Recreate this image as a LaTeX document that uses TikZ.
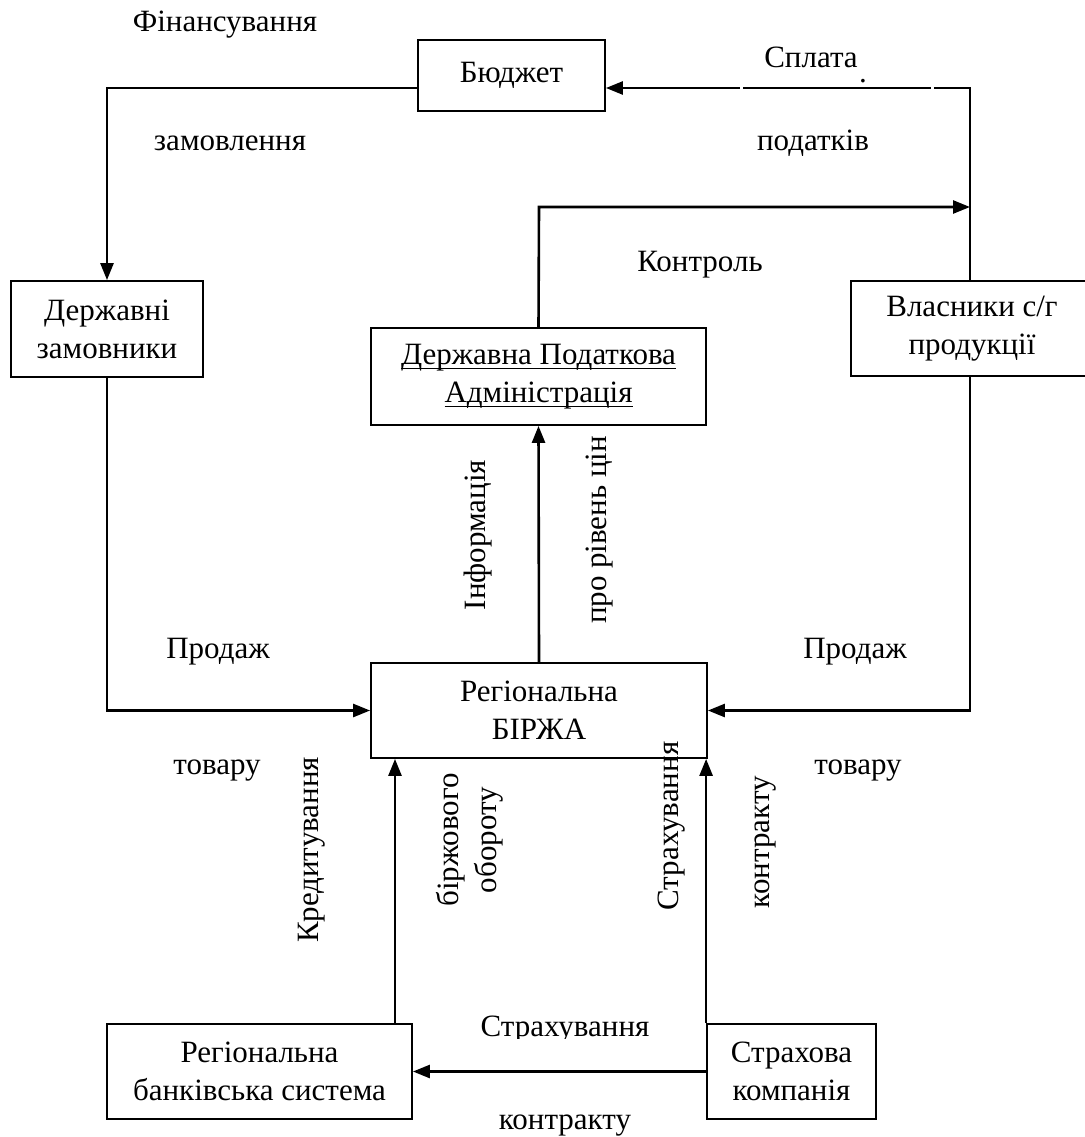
\documentclass[tikz,border=0pt]{standalone}
\usepackage{fontspec}
\setmainfont{Liberation Serif}
\usetikzlibrary{arrows.meta}
\newcommand\myul[1]{\setbox0\hbox{#1}\rlap{\rule[-5pt]{\wd0}{1.8pt}}\box0}
\begin{document}
\begin{tikzpicture}[x=1pt,y=-1pt,
  box/.style={draw, line width=1.8pt, inner sep=0pt, align=center, font=\fontsize{31}{38}\selectfont},
  lab/.style={inner sep=0pt, align=center, font=\fontsize{31}{38}\selectfont},
  conn/.style={line width=2.6pt, -{Triangle[length=17pt,width=13pt]}},
  plain/.style={line width=2.6pt}]
\useasboundingbox (0,0) rectangle (1084,1137);
% boxes
\node[box, minimum width=187pt, minimum height=71pt] (B) at (511.5,75.5) {Бюджет};
\node[box, minimum width=192pt, minimum height=96pt] (D) at (107,329) {Державні\\замовники};
\node[box, minimum width=242pt, minimum height=95pt] (V) at (972,328.5) {Власники с/г\\продукції};
\node[box, minimum width=335pt, minimum height=97pt] (P) at (538.5,376.5) {\myul{Державна Податкова}\\\myul{Адміністрація}};
\node[box, minimum width=336pt, minimum height=95pt] (X) at (539,710.5) {Регіональна\\БІРЖА};
\node[box, minimum width=305pt, minimum height=95pt] (K) at (259.5,1071.5) {Регіональна\\банківська система};
\node[box, minimum width=169pt, minimum height=95pt] (S) at (791.5,1071.5) {Страхова\\компанія};
% helper coordinates
\coordinate (tr) at (970,88);
\coordinate (tl) at (107,88);
\coordinate (kc) at (539,207);
\coordinate (bx) at (395,0);
% connectors
\draw[conn] (B.west |- tl) -- (tl) -- (D.north);
\draw[conn] (tr |- V.north) -- (tr) -- (B.east |- tr);
\draw[white, line width=4pt] (740,88) -- (743,88);
\draw[white, line width=4pt] (931,88) -- (934,88);
\draw[conn] (P.north) -- (kc) -- (kc -| tr);
\draw[conn] (tr |- V.south) -- (tr |- X.east) -- (X.east);
\draw[conn] (D.south) -- (D.south |- X.west) -- (X.west);
\draw[conn] (X.north) -- (P.south);
\draw[conn] (K.north -| bx) -- (X.south -| bx);
\draw[conn] (S.north west) -- (S.north west |- X.south);
\draw[conn] (S.west) -- (K.east);
% labels
\node[lab] (l1) at (225,25) {Фінансування};
\node[lab] (l2) at (230,143) {замовлення};
\node[lab] (l3) at (811,57) {Сплата};
\node[lab] (l3d) at (863,81) {.};
\node[lab] (l4) at (813,143) {податків};
\node[lab] (l5) at (700,265) {Контроль};
\node[lab, rotate=90] (l6) at (478,535) {Інформація};
\node[lab, rotate=90] (l7) at (600,530) {про рівень цін};
\node[lab] (l8) at (218,652) {Продаж};
\node[lab] (l9) at (217,771) {товару};
\node[lab] (l10) at (855,652) {Продаж};
\node[lab] (l11) at (858,771) {товару};
\node[lab, rotate=90] (l12) at (312,850) {Кредитування};
\node[lab, rotate=90] (l13) at (470,840) {біржового\\обороту};
\node[lab, rotate=90] (l14) at (672,826) {Страхування};
\node[lab, rotate=90] (l15) at (766,842) {контракту};
\begin{scope}
\clip (460,1005) rectangle (670,1038);
\node[lab] (l16) at (565,1030) {Страхування};
\end{scope}
\node[lab] (l17) at (565,1126) {контракту};
\end{tikzpicture}
\end{document}
